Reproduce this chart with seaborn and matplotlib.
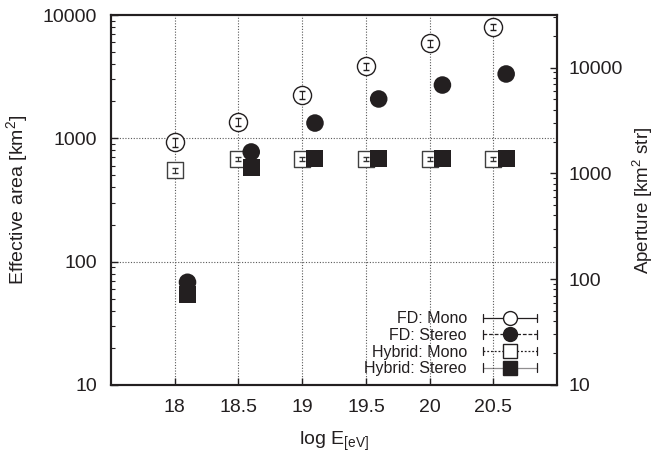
import numpy as np
import pandas as pd
import seaborn as sns
import matplotlib
matplotlib.use("Agg")
import matplotlib.pyplot as plt
from matplotlib.lines import Line2D
from matplotlib.legend_handler import HandlerBase
from matplotlib.ticker import FixedLocator, LogLocator, NullFormatter, FuncFormatter

# Data
log_e = [18.0, 18.5, 19.0, 19.5, 20.0, 20.5]
log_e_stereo = [18.1, 18.6, 19.1, 19.6, 20.1, 20.6]

fd_mono = [935, 1356, 2245, 3860, 5930, 8000]
fd_mono_err = [80, 100, 160, 260, 380, 500]
fd_stereo = [68, 775, 1330, 2085, 2705, 3325]
hybrid_mono = [553, 680, 680, 680, 680, 680]
hybrid_mono_err = [25, 30, 30, 30, 30, 30]
hybrid_stereo = [54, 585, 680, 680, 680, 680]

x_ticks = [18, 18.5, 19, 19.5, 20, 20.5]
x_tick_labels = ["18", "18.5", "19", "19.5", "20", "20.5"]
y_ticks = [10, 100, 1000, 10000]
aperture_ticks = [10, 100, 1000, 10000]

INK = "#231f20"

sns.set_theme(style="ticks")
plt.rcParams["font.family"] = ["Liberation Sans", "DejaVu Sans"]
plt.rcParams["mathtext.fontset"] = "custom"
plt.rcParams["mathtext.rm"] = "Liberation Sans"
plt.rcParams["mathtext.it"] = "Liberation Sans"
plt.rcParams["xtick.direction"] = "in"
plt.rcParams["ytick.direction"] = "in"

fig = plt.figure(figsize=(6.57, 4.55), dpi=100)
ax = fig.add_axes([0.169, 0.154, 0.679, 0.813])

mono_df = pd.DataFrame({"x": log_e, "fd": fd_mono, "hyb": hybrid_mono})
stereo_df = pd.DataFrame({"x": log_e_stereo, "fd": fd_stereo, "hyb": hybrid_stereo})

# grid first so markers sit on top
ax.set_xlim(17.5, 21.0)
ax.set_yscale("log")
ax.set_ylim(10, 10000)
for xv in x_ticks:
    ax.axvline(xv, color="0.35", lw=0.8, ls=(0, (1, 1.5)), zorder=0)
for yv in [100, 1000]:
    ax.axhline(yv, color="0.35", lw=0.8, ls=(0, (1, 1.5)), zorder=0)

# open markers with error bars
ax.errorbar(log_e, hybrid_mono, yerr=hybrid_mono_err, fmt="none", ecolor="0.2",
            elinewidth=0.8, capsize=2, zorder=3)
sns.scatterplot(data=mono_df, x="x", y="hyb", marker="s", s=130, facecolor="white",
                edgecolor="0.25", linewidth=1.0, ax=ax, zorder=2)
sns.scatterplot(data=stereo_df, x="x", y="hyb", marker="s", s=150, color=INK,
                edgecolor="none", ax=ax, zorder=4)
sns.scatterplot(data=mono_df, x="x", y="fd", marker="o", s=170, facecolor="white",
                edgecolor=INK, linewidth=1.0, ax=ax, zorder=2)
ax.errorbar(log_e, fd_mono, yerr=fd_mono_err, fmt="none", ecolor=INK,
            elinewidth=0.8, capsize=2.5, zorder=3)
sns.scatterplot(data=stereo_df, x="x", y="fd", marker="o", s=160, color=INK,
                edgecolor="none", ax=ax, zorder=4)

ax.set_xticks(x_ticks)
ax.set_xticklabels(x_tick_labels)
ax.yaxis.set_major_locator(FixedLocator(y_ticks))
ax.yaxis.set_major_formatter(FuncFormatter(lambda v, p: f"{int(v)}"))
ax.yaxis.set_minor_locator(LogLocator(base=10, subs=np.arange(2, 10)))
ax.yaxis.set_minor_formatter(NullFormatter())
ax.tick_params(axis="both", which="major", labelsize=14, length=5, width=1, color=INK,
               labelcolor=INK, pad=10)
ax.tick_params(axis="y", which="minor", length=3, width=0.8, color=INK)
ax.tick_params(top=False, right=False, which="both")
ax.set_xlabel("log E$_{[\\mathrm{eV}]}$", fontsize=14, color=INK, labelpad=10)
ax.set_ylabel("Effective area [km$^2$]", fontsize=14, color=INK, labelpad=9)
for sp in ax.spines.values():
    sp.set_linewidth(1.5)
    sp.set_color(INK)

# right axis: aperture
ax2 = ax.twinx()
ax2.set_yscale("log")
ax2.set_ylim(10, 31400)
ax2.yaxis.set_major_locator(FixedLocator(aperture_ticks))
ax2.yaxis.set_major_formatter(FuncFormatter(lambda v, p: f"{int(v)}"))
ax2.yaxis.set_minor_locator(LogLocator(base=10, subs=np.arange(2, 10)))
ax2.yaxis.set_minor_formatter(NullFormatter())
ax2.tick_params(axis="y", which="major", labelsize=14, length=5, width=1, color=INK,
                labelcolor=INK, pad=8)
ax2.tick_params(axis="y", which="minor", length=3, width=0.8, color=INK)
ax2.set_ylabel("Aperture [km$^2$ str]", fontsize=13.5, color=INK, labelpad=6)
for sp in ax2.spines.values():
    sp.set_linewidth(1.5)
    sp.set_color(INK)


class ErrLineHandler(HandlerBase):
    def __init__(self, marker, face, ls, **kw):
        super().__init__(**kw)
        self.marker, self.face, self.ls = marker, face, ls

    def create_artists(self, legend, orig, xd, yd, w, h, fs, trans):
        y = yd + h / 2
        line = Line2D([xd, xd + w], [y, y], color=INK, lw=0.9, ls=self.ls, transform=trans)
        c1 = Line2D([xd, xd], [y - 3, y + 3], color=INK, lw=0.9, transform=trans)
        c2 = Line2D([xd + w, xd + w], [y - 3, y + 3], color=INK, lw=0.9, transform=trans)
        mk = Line2D([xd + w / 2], [y], marker=self.marker, markersize=10,
                    markerfacecolor=self.face, markeredgecolor=INK,
                    markeredgewidth=1.0, ls="none", transform=trans)
        return [line, c1, c2, mk]


labels = ["FD: Mono", "FD: Stereo", "Hybrid: Mono", "Hybrid: Stereo"]
handles = [Line2D([], []) for _ in labels]
handler_map = {
    handles[0]: ErrLineHandler("o", "white", "-"),
    handles[1]: ErrLineHandler("o", INK, (0, (3, 1.5))),
    handles[2]: ErrLineHandler("s", "white", (0, (1.5, 1.5))),
    handles[3]: ErrLineHandler("s", INK, (0, (0.8, 0.8))),
}
leg = ax2.legend(handles, labels, handler_map=handler_map, loc="lower right",
                 markerfirst=False, frameon=False, fontsize=11.5, handlelength=3.4,
                 labelspacing=0.1, handletextpad=1.0, borderaxespad=0.15,
                 bbox_to_anchor=(0.975, 0.0))
for t in leg.get_texts():
    t.set_color(INK)

fig.savefig("out.png", dpi=100)
